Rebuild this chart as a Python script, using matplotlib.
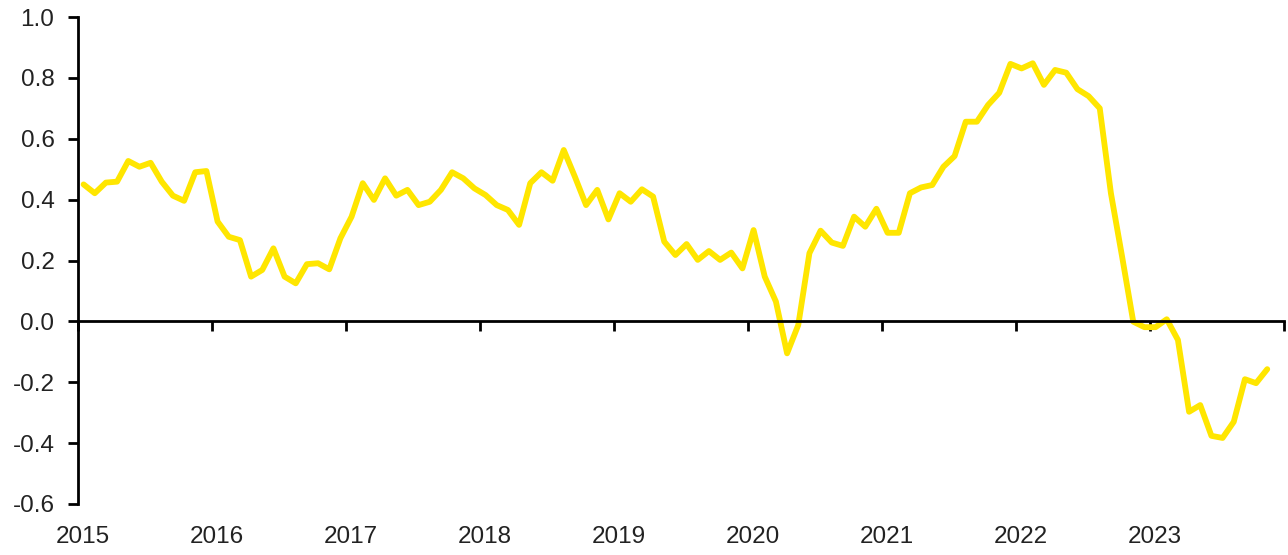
import matplotlib
matplotlib.use('Agg')
import matplotlib.pyplot as plt
import matplotlib.transforms as mtransforms

# monthly series, Jan 2015 - Nov 2023
values = [
    0.450, 0.421, 0.456, 0.459, 0.527, 0.508, 0.521, 0.459, 0.413, 0.396, 0.490, 0.494,  # 2015
    0.328, 0.278, 0.267, 0.147, 0.169, 0.240, 0.147, 0.125, 0.188, 0.191, 0.171, 0.273,  # 2016
    0.344, 0.454, 0.399, 0.470, 0.413, 0.432, 0.382, 0.393, 0.432, 0.490, 0.470, 0.437,  # 2017
    0.415, 0.382, 0.366, 0.317, 0.454, 0.490, 0.462, 0.563, 0.475, 0.382, 0.432, 0.335,  # 2018
    0.421, 0.393, 0.434, 0.410, 0.262, 0.218, 0.254, 0.202, 0.231, 0.202, 0.226, 0.174,  # 2019
    0.300, 0.147, 0.065, -0.105, -0.012, 0.224, 0.298, 0.259, 0.248, 0.344, 0.311, 0.370,  # 2020
    0.291, 0.291, 0.421, 0.440, 0.448, 0.508, 0.543, 0.656, 0.656, 0.711, 0.751, 0.846,  # 2021
    0.831, 0.848, 0.777, 0.826, 0.817, 0.763, 0.740, 0.700, 0.421, 0.213, -0.001, -0.019,  # 2022
    -0.019, 0.007, -0.061, -0.297, -0.275, -0.376, -0.383, -0.330, -0.190, -0.203, -0.157,  # 2023
]
years = ['2015', '2016', '2017', '2018', '2019', '2020', '2021', '2022', '2023']
n_months = 12 * len(years)

plt.rcParams['font.family'] = ['Liberation Sans', 'DejaVu Sans']

fig = plt.figure(figsize=(12.88, 5.55), dpi=100)
ax = fig.add_axes([78 / 1288, 1 - 504 / 555, (1284 - 78) / 1288, (504 - 17) / 555])

# the line
ax.plot(range(len(values)), values, color='#FFE600', linewidth=4.2,
        solid_joinstyle='round', solid_capstyle='round', clip_on=False)

# axes limits
ax.set_xlim(-0.5, n_months - 0.5)
ax.set_ylim(-0.6, 1.0)

# spines: y axis on the left, x axis through zero
for side in ['top', 'right']:
    ax.spines[side].set_visible(False)
ax.spines['bottom'].set_position(('data', 0))
ax.spines['left'].set_linewidth(2)
ax.spines['bottom'].set_linewidth(2)

# y ticks
ax.set_yticks([-0.6 + 0.2 * k for k in range(9)])
ax.set_yticklabels(['%.1f' % (-0.6 + 0.2 * k) for k in range(9)])
ax.tick_params(axis='y', direction='out', length=7, width=2, pad=10,
               labelsize=17.5, labelcolor='#222222')

# x ticks at year boundaries, no labels on the spine
ax.set_xticks([-0.5 + 12 * k for k in range(len(years) + 1)])
ax.set_xticklabels([])
ax.tick_params(axis='x', direction='out', length=7, width=2)

# year labels at the bottom, centred on January
trans = mtransforms.blended_transform_factory(ax.transData, ax.transAxes)
for k, yr in enumerate(years):
    ax.text(12 * k - 0.1, -0.068, yr, transform=trans, ha='center', va='center',
            fontsize=17.5, color='#222222')

plt.savefig('out.png', dpi=100)
